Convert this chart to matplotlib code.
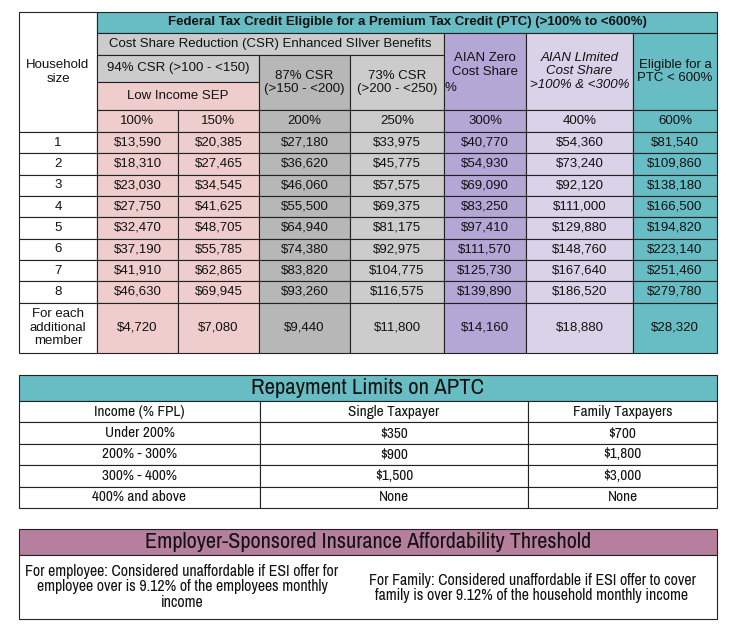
import matplotlib
matplotlib.use("Agg")
import matplotlib.pyplot as plt
from matplotlib.patches import Rectangle
import numpy as np

# ---- data ----
household = ['1', '2', '3', '4', '5', '6', '7', '8', 'For each\nadditional\nmember']
fpl_pct = ['100%', '150%', '200%', '250%', '300%', '400%', '600%']
fpl_100 = [13590, 18310, 23030, 27750, 32470, 37190, 41910, 46630, 4720]
fpl_150 = [20385, 27465, 34545, 41625, 48705, 55785, 62865, 69945, 7080]
fpl_200 = [27180, 36620, 46060, 55500, 64940, 74380, 83820, 93260, 9440]
fpl_250 = [33975, 45775, 57575, 69375, 81175, 92975, 104775, 116575, 11800]
fpl_300 = [40770, 54930, 69090, 83250, 97410, 111570, 125730, 139890, 14160]
fpl_400 = [54360, 73240, 92120, 111000, 129880, 148760, 167640, 186520, 18880]
fpl_600 = [81540, 109860, 138180, 166500, 194820, 223140, 251460, 279780, 28320]

repay_cols = ['Income (% FPL)', 'Single Taxpayer', 'Family Taxpayers']
income_bands = ['Under 200%', '200% - 300%', '300% - 400%', '400% and above']
single_limit = ['$350', '$900', '$1,500', 'None']
family_limit = ['$700', '$1,800', '$3,000', 'None']

esi_title = 'Employer-Sponsored Insurance Affordability Threshold'
esi_employee = 'For employee: Considered unaffordable if ESI offer for\nemployee over is 9.12% of the employees monthly\nincome'
esi_family = 'For Family: Considered unaffordable if ESI offer to cover\nfamily is over 9.12% of the household monthly income'

# ---- style ----
TEAL = '#68bcc3'
PINK = '#f0cdcd'
GREY = '#cccccc'
DGREY = '#b7b7b7'
PURPLE = '#b4a7d6'
LPURPLE = '#d9d2e9'
MAUVE = '#b67f9d'
EDGE = '#222222'

SANS = ['Liberation Sans', 'DejaVu Sans']
NARROW = ['Archivo Narrow', 'Liberation Sans', 'DejaVu Sans']

fig = plt.figure(figsize=(7.29, 6.28), dpi=100)
ax = fig.add_axes([0, 0, 1, 1])
ax.set_xlim(0, 729)
ax.set_ylim(628, 0)
ax.axis('off')


def cell(x0, y0, x1, y1, fc='white', text=None, size=9.5, family=SANS, **kw):
    ax.add_patch(Rectangle((x0, y0), x1 - x0, y1 - y0, facecolor=fc,
                           edgecolor=EDGE, linewidth=0.8))
    if text is not None:
        ax.text((x0 + x1) / 2, (y0 + y1) / 2, text, ha='center', va='center',
                fontsize=size, family=family, color='#111111',
                linespacing=1.15, **kw)


# ---- top table ----
xs = [19, 97, 178, 259, 350, 444, 526, 633, 717]
rows = list(np.linspace(132, 302.5, 9)) + [353]
col_colors = [PINK, PINK, DGREY, GREY, PURPLE, LPURPLE, TEAL]
columns = [fpl_100, fpl_150, fpl_200, fpl_250, fpl_300, fpl_400, fpl_600]

cell(xs[0], 12, xs[1], 132, 'white', 'Household\nsize')
cell(xs[1], 12, xs[8], 33, TEAL,
     'Federal Tax Credit Eligible for a Premium Tax Credit (PTC) (>100% to <600%)',
     size=9.5, weight='bold')
cell(xs[1], 33, xs[5], 55, GREY, 'Cost Share Reduction (CSR) Enhanced SIlver Benefits')
cell(xs[1], 55, xs[3], 82, GREY, '94% CSR (>100 - <150)')
cell(xs[1], 82, xs[3], 110, PINK, 'Low Income SEP')
cell(xs[3], 55, xs[4], 110, DGREY, '87% CSR\n(>150 - <200)')
cell(xs[4], 55, xs[5], 110, GREY, '73% CSR\n(>200 - <250)')
cell(xs[5], 33, xs[6], 110, PURPLE)
ax.text((xs[5] + xs[6]) / 2, 65, 'AIAN Zero\nCost Share', ha='center', va='center',
        fontsize=9.5, family=SANS, color='#111111', linespacing=1.15)
ax.text(xs[5] + 1, 88, '%', ha='left', va='center', fontsize=9.5, family=SANS,
        color='#111111')
cell(xs[6], 33, xs[7], 110, LPURPLE, 'AIAN LImited\nCost Share\n>100% & <300%',
     style='italic')
cell(xs[7], 33, xs[8], 110, TEAL, 'Eligible for a\nPTC < 600%')

for j, pct in enumerate(fpl_pct):
    cell(xs[j + 1], 110, xs[j + 2], 132, col_colors[j], pct)

for i, hh in enumerate(household):
    cell(xs[0], rows[i], xs[1], rows[i + 1], 'white', hh)
    for j, col in enumerate(columns):
        cell(xs[j + 1], rows[i], xs[j + 2], rows[i + 1], col_colors[j],
             '${:,}'.format(col[i]))

# ---- repayment limits ----
rx = [19, 260, 528, 717]
ry = [375, 401] + list(np.linspace(401, 508, 6)[1:])
cell(rx[0], ry[0], rx[3], ry[1], TEAL, 'Repayment Limits on APTC', size=16.4, family=NARROW)
r_rows = [repay_cols] + [list(r) for r in zip(income_bands, single_limit, family_limit)]
for i, r in enumerate(r_rows):
    for j, txt in enumerate(r):
        cell(rx[j], ry[i + 1], rx[j + 1], ry[i + 2], 'white', txt, size=11, family=NARROW)

# ---- ESI affordability ----
cell(19, 529, 717, 555, MAUVE, esi_title, size=16, family=NARROW)
cell(19, 555, 717, 619, 'white')
ax.text(182, 587, esi_employee, ha='center', va='center', fontsize=11.4,
        family=NARROW, color='#111111', linespacing=1.05)
ax.text(532, 588, esi_family, ha='center', va='center', fontsize=11.4,
        family=NARROW, color='#111111', linespacing=1.05)

fig.savefig('out.png', dpi=100, facecolor='white')
